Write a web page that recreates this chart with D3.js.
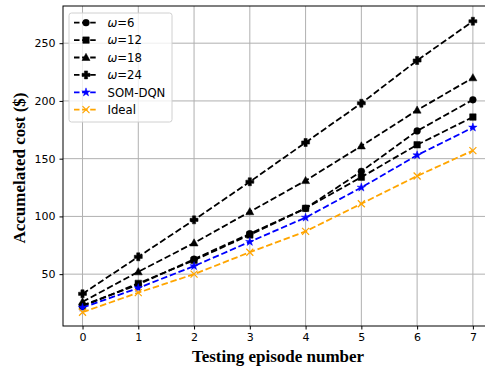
<!DOCTYPE html>
<html><head><meta charset="utf-8">
<script src="https://cdn.jsdelivr.net/npm/d3@7"></script>
<style>body{margin:0;background:#fff}svg{display:block}</style>
</head><body>
<script>
const episodes = [0,1,2,3,4,5,6,7];
const xTicks = [0,1,2,3,4,5,6,7];
const yTicks = [50,100,150,200,250];
const w6  = [23, 41, 63, 85, 107, 139, 174, 201];
const w12 = [22, 42, 62, 84, 107, 134, 162, 186];
const w18 = [26, 52, 77, 104, 131, 161, 192, 220];
const w24 = [33, 65, 97, 130, 164, 198, 235, 269];
const somDqn = [21, 38, 57, 78, 99, 125, 153, 177];
const ideal = [17, 34, 50, 69, 87, 111, 135, 157];

const series = [
  {label:"ω=6", omega:true, num:"6", vals:w6, color:"#000", marker:"circle"},
  {label:"ω=12", omega:true, num:"12", vals:w12, color:"#000", marker:"square"},
  {label:"ω=18", omega:true, num:"18", vals:w18, color:"#000", marker:"triangle"},
  {label:"ω=24", omega:true, num:"24", vals:w24, color:"#000", marker:"plus"},
  {label:"SOM-DQN", vals:somDqn, color:"#0000ff", marker:"star"},
  {label:"Ideal", vals:ideal, color:"#ffa500", marker:"x"}
];

const W=485,H=371;
const L=63,R=492.4,T=6,B=326;
const svg=d3.select("body").append("svg").attr("width",W).attr("height",H);
const x=d3.scaleLinear().domain([-0.35,7.35]).range([L,R]);
const y=d3.scaleLinear().domain([5.1,282.2]).range([B,T]);

svg.append("defs").append("clipPath").attr("id","clip").append("rect").attr("x",L).attr("y",T).attr("width",R-L).attr("height",B-T);

// grid
const g=svg.append("g");
g.selectAll(".gx").data(xTicks).enter().append("line")
 .attr("x1",d=>x(d)).attr("x2",d=>x(d)).attr("y1",T).attr("y2",B)
 .attr("stroke","#b0b0b0").attr("stroke-width",1);
g.selectAll(".gy").data(yTicks).enter().append("line")
 .attr("x1",L).attr("x2",R).attr("y1",d=>y(d)).attr("y2",d=>y(d))
 .attr("stroke","#b0b0b0").attr("stroke-width",1);

function markerPath(type){
  switch(type){
    case "circle": return d3.symbol(d3.symbolCircle,36)();
    case "square": return d3.symbol(d3.symbolSquare,42)();
    case "triangle": return "M0,-4.2L4,3L-4,3Z";
    case "plus": return "M-1.6,-4H1.6V-1.6H4V1.6H1.6V4H-1.6V1.6H-4V-1.6H-1.6Z";
    case "star": return d3.symbol(d3.symbolStar,22)();
    case "x": return "M-3.5,-3.5L3.5,3.5M-3.5,3.5L3.5,-3.5";
  }
}
const LW=1.8, DASH="6.5,2.8";

const plot=svg.append("g").attr("clip-path","url(#clip)");
const line=d3.line().x((d,i)=>x(episodes[i])).y(d=>y(d));
series.forEach(s=>{
  plot.append("path").attr("d",line(s.vals)).attr("fill","none")
   .attr("stroke",s.color).attr("stroke-width",LW).attr("stroke-dasharray",DASH);
  plot.selectAll(null).data(s.vals).enter().append("path")
   .attr("transform",(d,i)=>`translate(${x(episodes[i])},${y(d)})`)
   .attr("d",markerPath(s.marker))
   .attr("fill",s.marker==="x"?"none":s.color)
   .attr("stroke",s.color).attr("stroke-width",s.marker==="x"?1.2:0.5);
});

// spines
svg.append("rect").attr("x",L).attr("y",T).attr("width",R-L).attr("height",B-T)
 .attr("fill","none").attr("stroke","#000").attr("stroke-width",1);

// axes
const xa=svg.append("g").attr("transform",`translate(0,${B})`)
 .call(d3.axisBottom(x).tickValues(xTicks).tickSize(3.5).tickPadding(4).tickFormat(d3.format("d")));
const ya=svg.append("g").attr("transform",`translate(${L},0)`)
 .call(d3.axisLeft(y).tickValues(yTicks).tickSize(3.5).tickPadding(4).tickFormat(d3.format("d")));
[xa,ya].forEach(a=>{
  a.select(".domain").remove();
  a.selectAll("text").attr("font-family","DejaVu Sans").attr("font-size",11).attr("fill","#000");
  a.selectAll("line").attr("stroke","#000");
});

svg.append("text").attr("x",278).attr("y",362)
 .attr("text-anchor","middle").attr("font-family","Liberation Serif").attr("font-weight","bold")
 .attr("font-size",17).text("Testing episode number");
svg.append("text").attr("transform",`translate(25,168) rotate(-90)`)
 .attr("text-anchor","middle").attr("font-family","Liberation Serif").attr("font-weight","bold")
 .attr("font-size",17).text("Accumelated cost ($)");

// legend
const lg=svg.append("g");
lg.append("rect").attr("x",69).attr("y",13).attr("width",103).attr("height",109).attr("rx",2.5)
 .attr("fill","#fff").attr("fill-opacity",0.8).attr("stroke","#d0d0d0").attr("stroke-width",1);
series.forEach((s,i)=>{
  const yy=22.7+i*17.4;
  lg.append("line").attr("x1",74).attr("x2",98).attr("y1",yy).attr("y2",yy)
   .attr("stroke",s.color).attr("stroke-width",LW).attr("stroke-dasharray","5.5,2.6");
  lg.append("path").attr("transform",`translate(86,${yy})`).attr("d",markerPath(s.marker))
   .attr("fill",s.marker==="x"?"none":s.color).attr("stroke",s.color).attr("stroke-width",s.marker==="x"?1.2:0.5);
  const t=lg.append("text").attr("x",107.5).attr("y",yy+4.2).attr("font-family","DejaVu Sans").attr("font-size",11.7).attr("fill","#000");
  if(s.omega){
    t.append("tspan").attr("font-style","italic").text("ω");
    t.append("tspan").text("="+s.num);
  } else t.text(s.label);
});
</script>
</body></html>
